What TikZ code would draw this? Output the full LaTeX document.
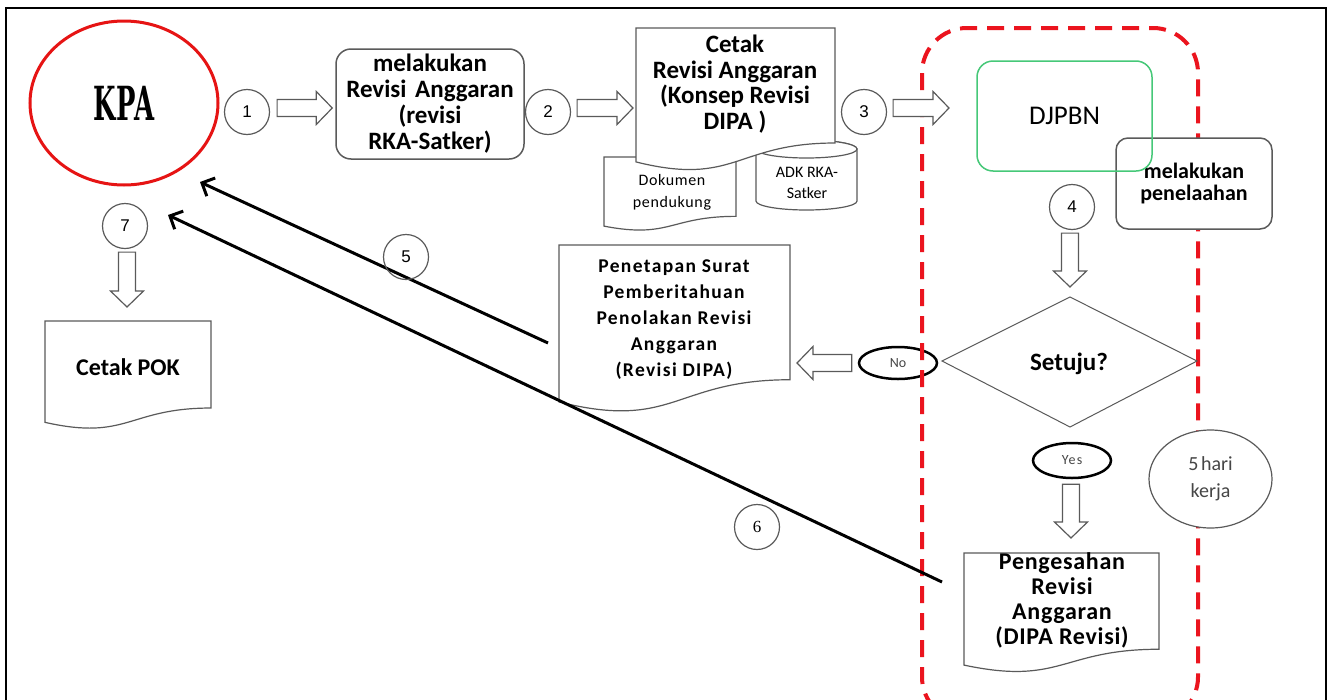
\documentclass[tikz,border=0pt]{standalone}
\usepackage{graphicx}
\usepackage{fontspec}
\setmainfont{Carlito}
\newfontfamily\serifkpa{DejaVu Serif}
\newfontfamily\serifsix{Liberation Serif}
\newfontfamily\numsans{Liberation Sans}
\usetikzlibrary{calc,shapes.geometric,arrows.meta}
\definecolor{kred}{RGB}{230,20,20}
\definecolor{dred}{RGB}{235,20,30}
\definecolor{dgreen}{RGB}{70,200,120}
\definecolor{lgray}{RGB}{90,90,90}
\definecolor{tgray}{RGB}{70,70,70}
\tikzset{
  numc/.style={circle, draw=lgray, line width=1.2pt, minimum size=45pt, inner sep=0pt, font=\numsans\fontsize{17}{17}\selectfont},
  blk/.style={draw=lgray, line width=1.2pt, fill=white},
  docst/.style={draw=lgray, line width=1.2pt, fill=white},
  thickarr/.style={line width=3pt, -{Straight Barb[length=10pt,width=20pt]}},
  yn/.style={ellipse, draw=black, line width=2.5pt, inner sep=0pt, text=tgray, font=\fontsize{14}{14}\selectfont},
  txt/.style={align=center, inner sep=0pt},
}
\newcommand\blockarrow[2]{%
  \coordinate (bneck) at ($(#2)!16pt!(#1)$);
  \draw[blk] ($(#1)!8.5pt!90:(#2)$) -- ($(bneck)!8.5pt!90:(#2)$) -- ($(bneck)!16.5pt!90:(#2)$) -- (#2) -- ($(bneck)!16.5pt!-90:(#2)$) -- ($(bneck)!8.5pt!-90:(#2)$) -- ($(#1)!8.5pt!-90:(#2)$) -- cycle;}
\newcommand\docshape[4]{%
  \draw[docst] (#1,#2) -- ({#1+#3},#2) -- ({#1+#3},{#2+0.802*#4}) .. controls ({#1+0.5*#3},{#2+0.802*#4}) and ({#1+0.5*#3},{#2+1.107*#4}) .. (#1,{#2+0.934*#4}) -- cycle;}
\begin{document}
\begin{tikzpicture}[x=1pt,y=-1pt]
\useasboundingbox (0,0) rectangle (1329,699);
\clip (0,0) rectangle (1329,699);
\fill[white] (0,0) rectangle (1329,699);
% frame
\draw[line width=2.2pt] (6,700) -- (6,8) -- (1326,8) -- (1326,700);
% KPA
\node[ellipse, draw=kred, line width=3pt, minimum width=188pt, minimum height=164pt, inner sep=0pt, font=\serifkpa\bfseries\fontsize{47}{47}\selectfont] (kpa) at (124,103) {\scalebox{0.55}[1]{KPA}};
% step 1
\node[numc] (c1) at (247,112) {1};
\node[draw=lgray, line width=1.5pt, rounded corners=15pt, minimum width=188pt, minimum height=110pt, align=center, font=\bfseries\fontsize{25}{26}\selectfont] (box1) at (430,104) {melakukan\\Revisi\hspace{3pt} Anggaran\\(revisi\\RKA-Satker)};
\coordinate (a1s) at ([shift={(7,-4)}]c1.east);
\coordinate (a1e) at ([shift={(-3,4)}]box1.west);
\blockarrow{a1s}{a1e}
% step 2
\node[numc] (c2) at (548,112) {2};
\coordinate (a2s) at ([shift={(6,-4)}]c2.east);
\coordinate (a2e) at (633,108);
\blockarrow{a2s}{a2e}
% Dokumen pendukung
\docshape{604}{157}{132}{74}
\node[txt, font=\fontsize{16}{22}\selectfont\addfontfeature{LetterSpace=4}] (dok) at (672,192) {Dokumen\\pendukung};
% ADK cylinder
\draw[docst] (756,149) -- (756,201) arc[start angle=180, end angle=360, x radius=50.5pt, y radius=9pt] -- (857,149) arc[start angle=0, end angle=180, x radius=50.5pt, y radius=9pt] -- cycle;
\draw[docst] (806.5,149) ellipse[x radius=50.5pt, y radius=9pt];
\node[txt, font=\fontsize{16}{21}\selectfont] (adk) at (807,183) {ADK RKA-\\Satker};
% Cetak revisi
\docshape{636}{28}{199}{143.4}
\node[txt, font=\bfseries\fontsize{25}{25.5}\selectfont] (cetak) at (735,84) {Cetak\\Revisi Anggaran\\(Konsep Revisi\\DIPA )};
% No ellipse
\node[yn, minimum width=78pt, minimum height=32pt] (no) at (898,363) {No};
% red dashed region
\draw[dred, line width=4pt, dash pattern=on 17pt off 10pt, rounded corners=45pt] (922,28) rectangle (1198,722);
% step 3
\node[numc] (c3) at (864,112) {3};
\coordinate (a3s) at ([shift={(6,-4)}]c3.east);
\coordinate (a3e) at (949,108);
\blockarrow{a3s}{a3e}
% DJPBN and penelaahan
\node[draw=lgray, fill=white, line width=1.5pt, rounded corners=12pt, minimum width=156pt, minimum height=91pt, align=center, font=\bfseries\fontsize{22}{22}\selectfont] (pen1) at (1194,183.5) {melakukan\\penelaahan};
\node[draw=dgreen, line width=1.5pt, rounded corners=16pt, minimum width=175pt, minimum height=110pt, font=\fontsize{27}{27}\selectfont] (djp) at (1064.5,116) {DJPBN};
% step 4
\node[numc] (c4) at (1072,207) {4};
\coordinate (a4s) at ([shift={(-2,3)}]c4.south);
\coordinate (a4e) at (1070,287);
\blockarrow{a4s}{a4e}
% decision
\node[txt, font=\bfseries\fontsize{25}{25}\selectfont] (dia) at (1069,364) {Setuju?};
\draw[draw=lgray, line width=1pt] (1070,297) -- (1197,361) -- (1070,427) -- (942,361) -- cycle;
% No branch
\coordinate (ans) at ([xshift=-6pt]no.west);
\coordinate (ane) at (797,363);
\blockarrow{ans}{ane}
\docshape{559}{245}{231}{168}
\node[txt, font=\bfseries\fontsize{19.5}{26}\selectfont\addfontfeature{LetterSpace=7}] (pen) at (674,319.5) {Penetapan Surat\\Pemberitahuan\\Penolakan Revisi\\Anggaran\\(Revisi DIPA)};
% arrows 5 and 6
\coordinate (e5) at (548,343);
\coordinate (t5) at (200,182);
\draw[thickarr] (e5) -- (t5);
\node[numc] (c5) at (406,257) {5};
\coordinate (e6) at (942,582);
\coordinate (t6) at (168,215);
\draw[thickarr] (e6) -- (t6);
\node[numc, font=\serifsix\fontsize{17}{17}\selectfont] (c6) at (757,527) {6};
% step 7
\node[numc] (c7) at (125,226) {7};
\coordinate (a7s) at ([shift={(2,3)}]c7.south);
\coordinate (a7e) at (127,307);
\blockarrow{a7s}{a7e}
\docshape{45}{321}{166}{108.5}
\node[txt, font=\bfseries\fontsize{24}{24}\selectfont] (pok) at (128,367) {Cetak POK};
% Yes branch
\node[yn, minimum width=78pt, minimum height=35pt, font=\fontsize{14}{14}\selectfont\addfontfeature{LetterSpace=8}] (yes) at (1072,460.5) {Yes};
\coordinate (ays) at ([shift={(-1,5)}]yes.south);
\coordinate (aye) at (1071,538);
\blockarrow{ays}{aye}
\docshape{964}{553}{195}{120}
\node[txt, font=\bfseries\fontsize{24}{25}\selectfont\addfontfeature{LetterSpace=3}] (pgs) at (1062,600.5) {Pengesahan\\Revisi\\Anggaran\\(DIPA Revisi)};
% 5 hari kerja
\node[ellipse, draw=lgray, fill=white, line width=1.2pt, minimum width=123pt, minimum height=98pt, inner sep=0pt, align=center, text=tgray, font=\fontsize{20}{27}\selectfont] (hari) at (1210.5,479) {5\hspace{2.5pt}hari\\kerja};
\end{tikzpicture}
\end{document}
